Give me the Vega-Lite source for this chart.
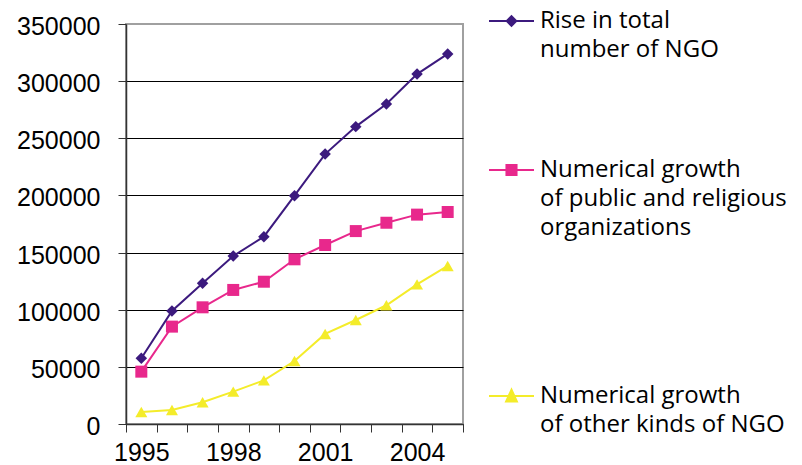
{
  "$schema": "https://vega.github.io/schema/vega-lite/v6.json",
  "width": 337,
  "height": 400,
  "autosize": {"type": "none"},
  "padding": {"left": 126, "top": 24, "right": 339, "bottom": 41},
  "background": "white",
  "config": {
    "font": "Liberation Sans",
    "view": {"stroke": "#a0a0a0", "strokeWidth": 2},
    "legend": {"padding": 0, "titlePadding": 0, "labelFont": "Open Sans", "labelFontSize": 24, "labelColor": "#000", "labelLimit": 400, "labelOffset": 16.5, "symbolSize": 324, "symbolStrokeWidth": 2, "symbolOpacity": 1}
  },
  "data": {
    "values": [
      {"year": 1995, "series": "total", "value": 57500},
      {"year": 1996, "series": "total", "value": 98900},
      {"year": 1997, "series": "total", "value": 123100},
      {"year": 1998, "series": "total", "value": 147000},
      {"year": 1999, "series": "total", "value": 163900},
      {"year": 2000, "series": "total", "value": 199800},
      {"year": 2001, "series": "total", "value": 236200},
      {"year": 2002, "series": "total", "value": 260200},
      {"year": 2003, "series": "total", "value": 280000},
      {"year": 2004, "series": "total", "value": 306200},
      {"year": 2005, "series": "total", "value": 323800},
      {"year": 1995, "series": "public", "value": 45800},
      {"year": 1996, "series": "public", "value": 85200},
      {"year": 1997, "series": "public", "value": 102100},
      {"year": 1998, "series": "public", "value": 117300},
      {"year": 1999, "series": "public", "value": 124500},
      {"year": 2000, "series": "public", "value": 144100},
      {"year": 2001, "series": "public", "value": 156600},
      {"year": 2002, "series": "public", "value": 168800},
      {"year": 2003, "series": "public", "value": 176100},
      {"year": 2004, "series": "public", "value": 183200},
      {"year": 2005, "series": "public", "value": 185500},
      {"year": 1995, "series": "other", "value": 10500},
      {"year": 1996, "series": "other", "value": 12300},
      {"year": 1997, "series": "other", "value": 19000},
      {"year": 1998, "series": "other", "value": 28300},
      {"year": 1999, "series": "other", "value": 38200},
      {"year": 2000, "series": "other", "value": 55100},
      {"year": 2001, "series": "other", "value": 78800},
      {"year": 2002, "series": "other", "value": 91000},
      {"year": 2003, "series": "other", "value": 103900},
      {"year": 2004, "series": "other", "value": 122200},
      {"year": 2005, "series": "other", "value": 138300}
    ]
  },
  "encoding": {
    "x": {
      "field": "year",
      "type": "ordinal",
      "scale": {"paddingInner": 0, "paddingOuter": 0},
      "axis": {
        "title": null,
        "labelAngle": 0,
        "labelFontSize": 25,
        "labelColor": "#000",
        "labelPadding": 8,
        "labelOverlap": false,
        "labelExpr": "datum.value % 3 == 0 ? datum.label : ''",
        "tickBand": "extent",
        "tickSize": 8,
        "tickColor": "#333",
        "domainColor": "#333",
        "domainWidth": 1.5,
        "grid": false
      }
    },
    "y": {
      "field": "value",
      "type": "quantitative",
      "scale": {"domain": [0, 350000], "nice": false},
      "axis": {
        "title": null,
        "values": [0, 50000, 100000, 150000, 200000, 250000, 300000, 350000],
        "format": "d",
        "labelFontSize": 25,
        "labelColor": "#000",
        "labelPadding": 18,
        "labelOffset": 2.5,
        "tickSize": 8,
        "tickColor": "#333",
        "domainColor": "#333",
        "domainWidth": 1.5,
        "grid": true,
        "gridColor": {"condition": {"test": "datum.value == 350000", "value": "#a0a0a0"}, "value": "#000"},
        "gridWidth": 1
      }
    }
  },
  "layer": [
    {
      "transform": [{"filter": "datum.series == 'other'"}],
      "mark": {"type": "line", "color": "#f4ec2a", "strokeWidth": 2}
    },
    {
      "transform": [{"filter": "datum.series == 'other'"}],
      "mark": {"type": "point", "shape": "triangle-up", "filled": true, "size": 144, "opacity": 1},
      "encoding": {
        "color": {
          "field": "series",
          "type": "nominal",
          "scale": {"domain": ["other"], "range": ["#f4ec2a"]},
          "legend": {
            "orient": "none",
            "legendX": 373.5,
            "legendY": 360,
            "title": null,
            "symbolType": "M-2.5,0H2.5M0,-0.7L0.6,0.6L-0.6,0.6Z",
            "symbolStrokeColor": "#f4ec2a",
            "labelExpr": "['Numerical growth', 'of other kinds of NGO']",
            "encode": {"labels": {"update": {"lineHeight": {"value": 29}}}}
          }
        }
      }
    },
    {
      "transform": [{"filter": "datum.series == 'public'"}],
      "mark": {"type": "line", "color": "#e8288c", "strokeWidth": 2}
    },
    {
      "transform": [{"filter": "datum.series == 'public'"}],
      "mark": {"type": "point", "shape": "square", "filled": true, "size": 144, "opacity": 1},
      "encoding": {
        "color": {
          "field": "series",
          "type": "nominal",
          "scale": {"domain": ["public"], "range": ["#e8288c"]},
          "legend": {
            "orient": "none",
            "legendX": 373.5,
            "legendY": 134,
            "title": null,
            "symbolType": "M-2.5,0H2.5M-0.56,-0.56H0.56V0.56H-0.56Z",
            "symbolStrokeColor": "#e8288c",
            "labelExpr": "['Numerical growth', 'of public and religious', 'organizations']",
            "encode": {"labels": {"update": {"lineHeight": {"value": 29}}}}
          }
        }
      }
    },
    {
      "transform": [{"filter": "datum.series == 'total'"}],
      "mark": {"type": "line", "color": "#3c1a7e", "strokeWidth": 2}
    },
    {
      "transform": [{"filter": "datum.series == 'total'"}],
      "mark": {"type": "point", "shape": "diamond", "filled": true, "size": 132, "opacity": 1},
      "encoding": {
        "color": {
          "field": "series",
          "type": "nominal",
          "scale": {"domain": ["total"], "range": ["#3c1a7e"]},
          "legend": {
            "orient": "none",
            "legendX": 373.5,
            "legendY": -15,
            "title": null,
            "symbolType": "M-2.5,0H2.5M0,-0.53L0.53,0L0,0.53L-0.53,0Z",
            "symbolStrokeColor": "#3c1a7e",
            "labelExpr": "['Rise in total', 'number of NGO']",
            "encode": {"labels": {"update": {"lineHeight": {"value": 29}}}}
          }
        }
      }
    }
  ],
  "resolve": {"scale": {"color": "independent"}, "legend": {"color": "independent"}}
}
